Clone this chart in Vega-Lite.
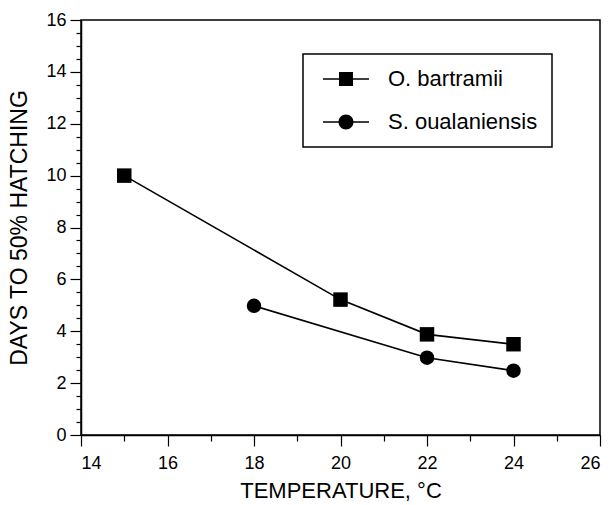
{
  "$schema": "https://vega.github.io/schema/vega-lite/v6.json",
  "width": 519,
  "height": 415,
  "autosize": "none",
  "padding": {"left": 81, "top": 20, "right": 13, "bottom": 70},
  "background": "white",
  "config": {
    "font": "Liberation Sans",
    "view": {"stroke": "black", "strokeWidth": 1.5},
    "legend": {"strokeWidth": 1.5},
    "axis": {
      "grid": false,
      "domainColor": "black",
      "domainWidth": 1.5,
      "tickColor": "black",
      "tickWidth": 1.2,
      "labelColor": "black",
      "labelFont": "Liberation Sans",
      "labelFontSize": 18,
      "titleColor": "black",
      "titleFont": "Liberation Sans",
      "titleFontSize": 22,
      "titleFontWeight": "normal"
    }
  },
  "data": {
    "values": [
      {"species": "O. bartramii", "temp": 15, "days": 10.0},
      {"species": "O. bartramii", "temp": 20, "days": 5.22},
      {"species": "O. bartramii", "temp": 22, "days": 3.88},
      {"species": "O. bartramii", "temp": 24, "days": 3.5},
      {"species": "S. oualaniensis", "temp": 18, "days": 4.98},
      {"species": "S. oualaniensis", "temp": 22, "days": 2.98},
      {"species": "S. oualaniensis", "temp": 24, "days": 2.48}
    ]
  },
  "encoding": {
    "x": {
      "field": "temp",
      "type": "quantitative",
      "scale": {"domain": [14, 26], "nice": false, "zero": false},
      "axis": {
        "title": "TEMPERATURE, °C",
        "values": [14, 15, 16, 17, 18, 19, 20, 21, 22, 23, 24, 25, 26],
        "labelExpr": "datum.value % 2 == 0 ? format(datum.value, 'd') : ''",
        "tickSize": {"condition": {"test": "datum.value % 2 != 0", "value": 6}, "value": 11},
        "labelPadding": 8,
        "titlePadding": 8
      }
    },
    "y": {
      "field": "days",
      "type": "quantitative",
      "scale": {"domain": [0, 16], "nice": false},
      "axis": {
        "title": "DAYS TO 50% HATCHING",
        "titleFontSize": 23,
        "values": [0, 0.5, 1, 1.5, 2, 2.5, 3, 3.5, 4, 4.5, 5, 5.5, 6, 6.5, 7, 7.5, 8, 8.5, 9, 9.5, 10, 10.5, 11, 11.5, 12, 12.5, 13, 13.5, 14, 14.5, 15, 15.5, 16],
        "labelExpr": "datum.value % 2 == 0 ? format(datum.value, 'd') : ''",
        "tickSize": {"condition": {"test": "datum.value % 2 != 0", "value": 5}, "value": 11},
        "labelPadding": 4,
        "titlePadding": 14
      }
    }
  },
  "resolve": {"scale": {"shape": "independent"}, "legend": {"shape": "independent"}},
  "layer": [
    {
      "mark": {"type": "line", "color": "black", "strokeWidth": 1.6},
      "encoding": {"detail": {"field": "species"}}
    },
    {
      "mark": {"type": "point", "filled": true, "color": "black", "opacity": 1, "size": 210},
      "encoding": {
        "shape": {
          "field": "species",
          "type": "nominal",
          "scale": {"domain": ["O. bartramii", "S. oualaniensis"], "range": ["square", "circle"]},
          "legend": null
        }
      }
    },
    {
      "mark": {"type": "point", "filled": true, "color": "black", "opacity": 0, "size": 400},
      "encoding": {
        "shape": {
          "field": "species",
          "type": "nominal",
          "scale": {
            "domain": ["O. bartramii", "S. oualaniensis"],
            "range": [
              "M-2.3,-0.08H-0.6V0.08H-2.3ZM0.6,-0.08H2.3V0.08H0.6ZM-0.7,-0.7H0.7V0.7H-0.7Z",
              "M-2.3,-0.08H-0.6V0.08H-2.3ZM0.6,-0.08H2.3V0.08H0.6ZM0.75,0A0.75,0.75 0 1,1 -0.75,0A0.75,0.75 0 1,1 0.75,0Z"
            ]
          },
          "legend": {
            "orient": "none",
            "legendX": 222,
            "legendY": 34,
            "title": null,
            "strokeColor": "black",
            "padding": 14,
            "labelFontSize": 22,
            "labelFont": "Liberation Sans",
            "labelColor": "black",
            "symbolSize": 400,
            "symbolOpacity": 1,
            "symbolFillColor": "black",
            "symbolStrokeColor": "black",
            "symbolStrokeWidth": 1.5,
            "symbolOffset": 18,
            "labelOffset": 31,
            "rowPadding": 21
          }
        }
      }
    }
  ]
}
